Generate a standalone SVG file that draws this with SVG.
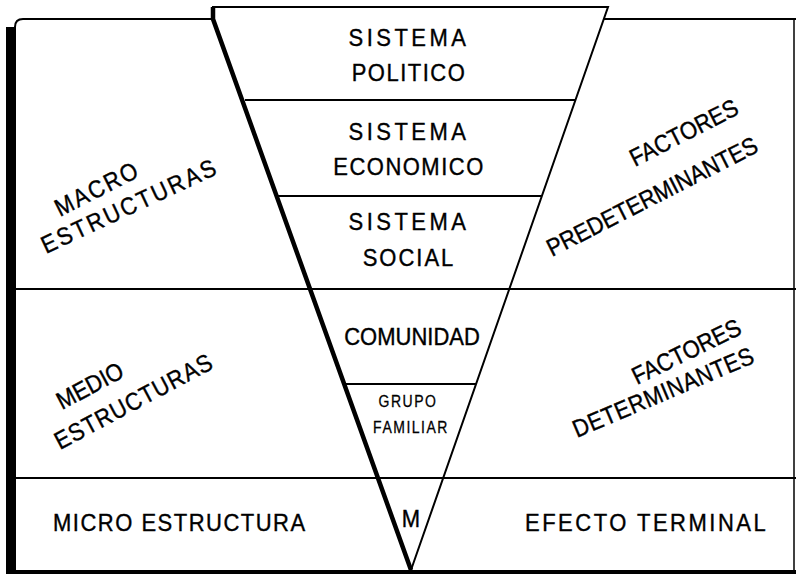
<svg xmlns="http://www.w3.org/2000/svg" width="796" height="577" viewBox="0 0 796 577">
<style>
  .ln { stroke:#000; fill:none; stroke-linecap:butt; }
  .t { font-family:"Liberation Sans", Arial, sans-serif; font-size:22px; fill:#000; stroke:#000; stroke-width:0.35; }
  .c { text-anchor:middle; }
  .small { font-size:14px; stroke-width:0.25; }
</style>
<rect x="0" y="0" width="796" height="577" fill="#fff"/>
<g id="frame">
  <path class="ln" stroke-width="2" d="M15,27 Q15,19 23,19 L213,19"/>
  <path class="ln" stroke-width="2" d="M603,19 L796,19"/>
  <rect x="6" y="27" width="10" height="546" fill="#000"/>
  <path class="ln" stroke-width="2" d="M15,289 L796,289"/>
  <path class="ln" stroke-width="2" d="M15,478 L796,478"/>
  <path class="ln" stroke-width="4" d="M6,572 L796,572"/>
  <path class="ln" stroke-width="1.5" d="M794,19 L794,572"/>
</g>
<g id="connectors">
  <path class="ln" stroke-width="4.5" stroke-linejoin="miter" d="M213,7 L213,19 L411,570"/>
  <path class="ln" stroke-width="2" d="M212,7 L608,7 L411,570"/>
  <path class="ln" stroke-width="2" d="M245,100 L576,100"/>
  <path class="ln" stroke-width="2" d="M278,196 L542,196"/>
  <path class="ln" stroke-width="2" d="M346,384 L476,384"/>
</g>
<g id="sistema-politico">
  <text class="t c" transform="translate(409,46) scale(1,1.12)" letter-spacing="3.5">SISTEMA</text>
  <text class="t c" transform="translate(409,81) scale(1,1.12)" letter-spacing="1.5">POLITICO</text>
</g>
<g id="sistema-economico">
  <text class="t c" transform="translate(409,140) scale(1,1.12)" letter-spacing="3.5">SISTEMA</text>
  <text class="t c" transform="translate(409,175) scale(1,1.12)" letter-spacing="1.5">ECONOMICO</text>
</g>
<g id="sistema-social">
  <text class="t c" transform="translate(409,230) scale(1,1.12)" letter-spacing="3.5">SISTEMA</text>
  <text class="t c" transform="translate(409,266) scale(1,1.12)" letter-spacing="2">SOCIAL</text>
</g>
<g id="comunidad">
  <text class="t c" transform="translate(412,345) scale(1,1.12)">COMUNIDAD</text>
</g>
<g id="grupo-familiar">
  <text class="t c small" transform="translate(408,407) scale(1,1.12)" letter-spacing="1.5">GRUPO</text>
  <text class="t c small" transform="translate(411,433) scale(1,1.12)" letter-spacing="1.5">FAMILIAR</text>
</g>
<g id="m">
  <text class="t c" transform="translate(411,527) scale(1,1.12)" font-size="20">M</text>
</g>
<g id="macro-estructuras">
  <text class="t" transform="translate(60,217) rotate(-27) scale(1,1.12)" letter-spacing="2">MACRO</text>
  <text class="t" transform="translate(46,254) rotate(-25) scale(1,1.12)" letter-spacing="2.5">ESTRUCTURAS</text>
</g>
<g id="factores-predeterminantes">
  <text class="t" transform="translate(635,167) rotate(-27) scale(1,1.12)">FACTORES</text>
  <text class="t" transform="translate(552,257) rotate(-27) scale(1,1.12)">PREDETERMINANTES</text>
</g>
<g id="medio-estructuras">
  <text class="t" transform="translate(62,410) rotate(-28) scale(1,1.12)">MEDIO</text>
  <text class="t" transform="translate(60,450) rotate(-28) scale(1,1.12)" letter-spacing="1">ESTRUCTURAS</text>
</g>
<g id="factores-determinantes">
  <text class="t" transform="translate(637,385) rotate(-26) scale(1,1.12)">FACTORES</text>
  <text class="t" transform="translate(577,438) rotate(-23) scale(1,1.12)" letter-spacing="0.5">DETERMINANTES</text>
</g>
<g id="micro-estructura">
  <text class="t" transform="translate(53,531) scale(1,1.12)" letter-spacing="1.5">MICRO ESTRUCTURA</text>
</g>
<g id="efecto-terminal">
  <text class="t" transform="translate(525,531) scale(1,1.12)" letter-spacing="2.5">EFECTO TERMINAL</text>
</g>
</svg>
